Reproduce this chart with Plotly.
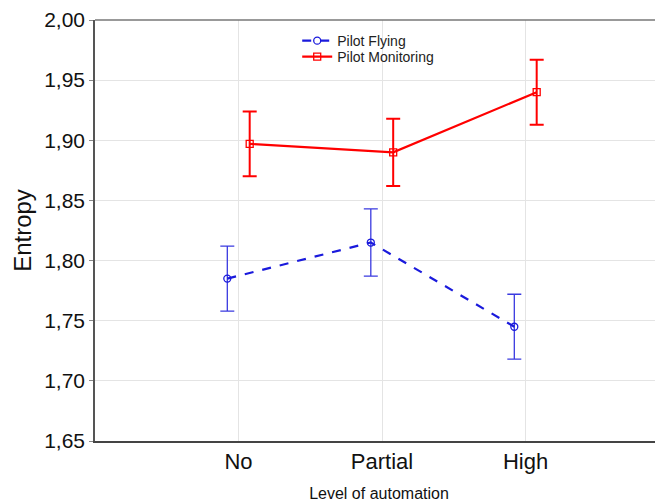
import plotly.graph_objects as go

categories = ["No", "Partial", "High"]
pf_mean = [1.785, 1.815, 1.745]
pf_err = [0.027, 0.028, 0.027]
pm_mean = [1.897, 1.890, 1.940]
pm_err = [0.027, 0.028, 0.027]
y_ticks = [1.65, 1.70, 1.75, 1.80, 1.85, 1.90, 1.95, 2.00]

offset = 0.078
idx = list(range(len(categories)))
x_pf = [i - offset for i in idx]
x_pm = [i + offset for i in idx]

fig = go.Figure()
fig.add_trace(go.Scatter(
    x=x_pf, y=pf_mean, name="Pilot Flying", mode="lines+markers", legend="legend",
    line=dict(color="#1a1adc", width=2.2, dash="dash"),
    marker=dict(symbol="circle-open", size=7, color="#1a1adc", line=dict(width=1.3)),
    error_y=dict(type="data", array=pf_err, color="#3a3ae0", thickness=1.3, width=7),
))
fig.add_trace(go.Scatter(
    x=x_pm, y=pm_mean, name="Pilot Monitoring", mode="lines+markers", legend="legend2",
    line=dict(color="#ff0000", width=2.2),
    marker=dict(symbol="square-open", size=7, color="#ff0000", line=dict(width=1.3)),
    error_y=dict(type="data", array=pm_err, color="#ff0000", thickness=2, width=7),
))

legend_style = dict(xanchor="left", yanchor="top", font=dict(size=14, color="#222222"),
                    bgcolor="rgba(0,0,0,0)", itemwidth=30)
fig.update_layout(
    width=655, height=494,
    margin=dict(l=87, r=0, t=12, b=61),
    paper_bgcolor="white", plot_bgcolor="white",
    separators=",.",
    font=dict(family="Liberation Sans, Arial, sans-serif", color="#111111"),
    showlegend=True,
    legend=dict(x=0.356, y=0.988, **legend_style),
    legend2=dict(x=0.356, y=0.950, **legend_style),
)
fig.update_xaxes(
    range=[-1, -1 + 568 / 143.5],
    tickmode="array", tickvals=idx, ticktext=categories,
    tickfont=dict(size=22),
    showgrid=True, gridcolor="#e4e4e4", gridwidth=1,
    showline=True, linecolor="#444444", linewidth=1.5,
    ticks="", zeroline=False,
    title=dict(text="Level of automation", font=dict(size=16), standoff=18),
    automargin=False,
)
fig.update_yaxes(
    range=[1.65, 2.00],
    tickmode="array", tickvals=y_ticks, tickformat=".2f",
    tickfont=dict(size=21),
    showgrid=True, gridcolor="#e4e4e4", gridwidth=1,
    showline=True, linecolor="#555555", linewidth=1.5, mirror=False,
    ticks="outside", ticklen=4, tickcolor="#888888",
    zeroline=False,
    title=dict(text="Entropy", font=dict(size=24), standoff=6),
    automargin=False,
)
# top border line
fig.add_shape(type="line", xref="paper", yref="paper", x0=0, x1=1, y0=1, y1=1,
              line=dict(color="#777777", width=1.5))

fig.write_html("out.html", post_script="document.body.style.overflow='hidden';")
